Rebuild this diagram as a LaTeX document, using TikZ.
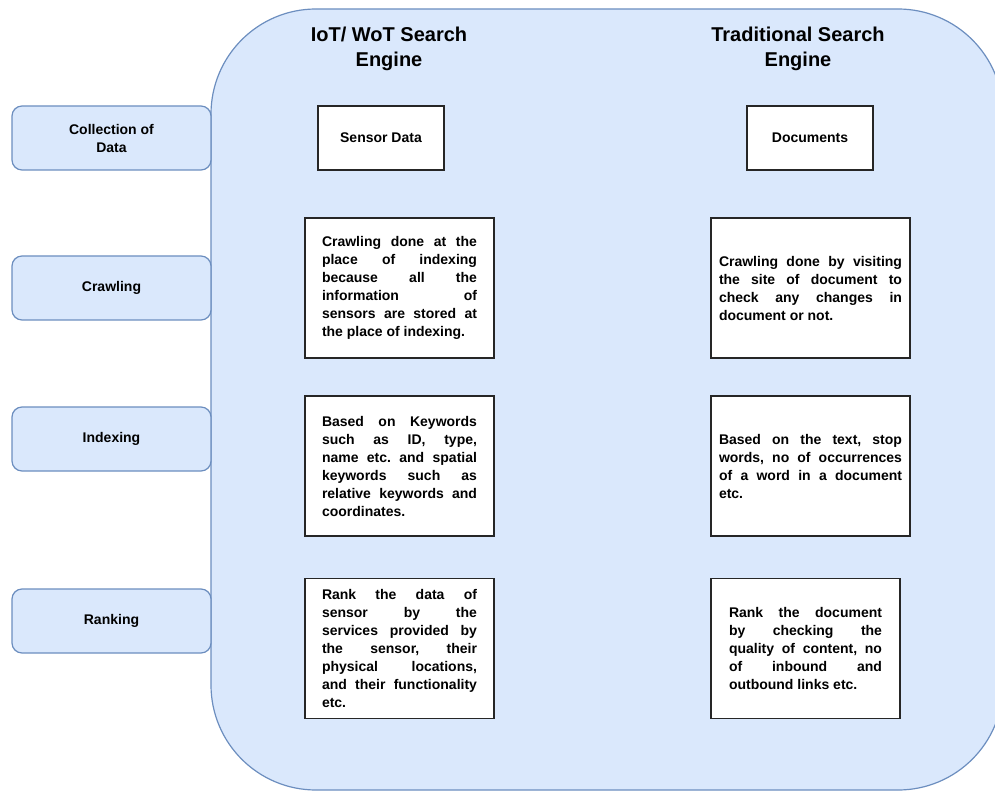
\documentclass[tikz,border=0pt]{standalone}
\usepackage{fontspec}
\setmainfont{Liberation Sans}
\usepackage{xcolor}
\definecolor{paleblue}{HTML}{DAE8FC}
\definecolor{edgeblue}{HTML}{6C8EBF}

\begin{document}
\begin{tikzpicture}[x=1pt, y=-1pt,
		stage/.style={draw=edgeblue, fill=paleblue, line width=1.2pt, rounded corners=10pt,
			minimum width=199pt, minimum height=64pt, align=center,
			font=\bfseries\fontsize{14}{18}\selectfont},
		title/.style={align=center, font=\bfseries\fontsize{20}{25}\selectfont},
		card/.style={draw=black!85, fill=white, line width=1.5pt, inner sep=0pt,
			align=justify, font=\bfseries\frenchspacing\fontsize{14}{18}\selectfont}]
	\def\iotx{399.5};
	\def\webx{810.5};
	
	\useasboundingbox (0,0) rectangle (995,791);
	
	% outer panel
	\draw[draw=edgeblue, fill=paleblue, line width=1.2pt, rounded corners=105pt]
		(211,9) rectangle (1003,790);
	
	% stages on the left
	\begin{scope}
		\node[stage] (collect) at (111.5,138) {Collection of\\Data};
		\node[stage] (crawl) at (111.5,288) {Crawling};
		\node[stage] (index) at (111.5,439) {Indexing};
		\node[stage] (rank) at (111.5,621) {Ranking};
	\end{scope}
	
	% column headings
	\node[title] (iottitle) at (389,49) {IoT/ WoT Search\\Engine};
	\node[title] (webtitle) at (798,49) {Traditional Search\\Engine};
	
	\begin{scope}
		\node[card, align=center, minimum width=126pt, minimum height=64pt] (sensor) at (381,138) {Sensor Data};
		\node[card, align=center, minimum width=126pt, minimum height=64pt] (docs) at (810,138) {Documents};
	\end{scope}
	
	% IoT column
	\begin{scope}[every node/.append style={text width=155pt, minimum width=189pt, minimum height=140pt}]
		\node[card] (iotcrawl) at (\iotx,288) {Crawling done at the\linebreak place of indexing\linebreak because all the\linebreak information of\linebreak sensors are stored at\linebreak the place of indexing.};
		\node[card] (iotindex) at (\iotx,466) {Based on Keywords\linebreak such as ID, type,\linebreak name etc. and spatial\linebreak keywords such as\linebreak relative keywords and\linebreak coordinates.};
		\node[card] (iotrank) at (\iotx,648.5) {Rank the data of\linebreak sensor by the\linebreak services provided by\linebreak the sensor, their\linebreak physical locations,\linebreak and their functionality\linebreak etc.};
	\end{scope}
	
	% traditional column
	\begin{scope}[every node/.append style={minimum height=140pt}]
		\node[card, text width=183pt, minimum width=199pt] (webcrawl) at (\webx,288) {Crawling done by visiting\linebreak the site of document to\linebreak check any changes in\linebreak document or not.};
		\node[card, text width=183pt, minimum width=199pt] (webindex) at (\webx,466) {Based on the text, stop\linebreak words, no of occurrences\linebreak of a word in a document\linebreak etc.};
		\node[card, text width=153pt, minimum width=189pt] (webrank) at (805.5,648.5) {Rank the document\linebreak by checking the\linebreak quality of content, no\linebreak of inbound and\linebreak outbound links etc.};
	\end{scope}
\end{tikzpicture}
\end{document}
